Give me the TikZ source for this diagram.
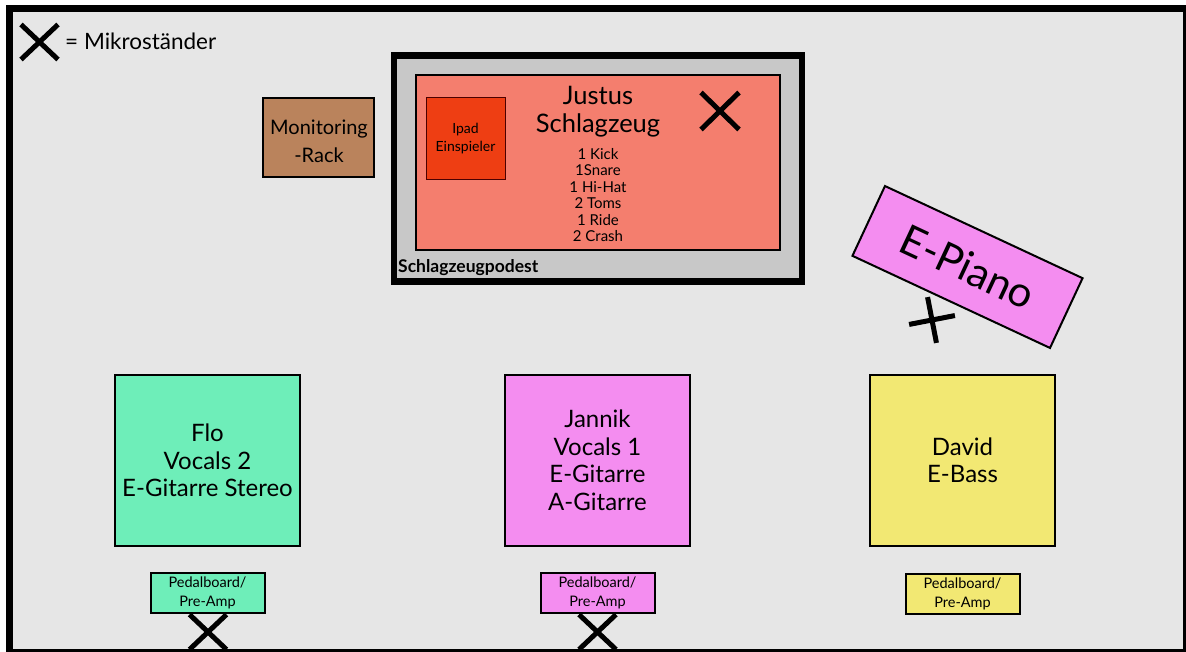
\documentclass[tikz,border=0pt]{standalone}
\usepackage{fontspec}
\setmainfont{Lato}
\usetikzlibrary{shapes.misc}
\definecolor{bgc}{HTML}{E6E6E6}
\definecolor{mint}{HTML}{6EEEB9}
\definecolor{pinkc}{HTML}{F48DF0}
\definecolor{yell}{HTML}{F2E873}
\definecolor{salm}{HTML}{F47E6E}
\definecolor{ipadc}{HTML}{EE3E13}
\definecolor{brownc}{HTML}{BA835C}
\definecolor{podc}{HTML}{C8C8C8}
\tikzset{
  box/.style={draw=black, line width=2pt, inner sep=0pt, align=center, text=black},
  bigtxt/.style={font=\fontsize{24}{27.5}\selectfont},
  pedal/.style={box, minimum width=114, minimum height=40, font=\fontsize{14.5}{19}\selectfont},
  mic/.style={cross out, draw=black, line width=5pt, inner sep=0pt, minimum width=32, minimum height=30},
}
\begin{document}
\begin{tikzpicture}[x=1pt, y=-1pt]
\useasboundingbox (0,0) rectangle (1186,652);
\fill[white] (0,0) rectangle (1186,652);
\fill[black] (6,5) rectangle (1186,652);
\fill[bgc] (13,12) rectangle (1183,649);

% legend
\node[mic] (lx) at (39.5,42) {};
\node[anchor=base west, inner sep=0pt, font=\fontsize{22.5}{26}\selectfont] (leg) at (65,50) {= Mikroständer};

% monitoring rack
\node[box, fill=brownc, minimum width=111, minimum height=79] (rack) at (318.5,137.5) {};
\node[align=center, inner sep=0pt, font=\fontsize{20}{28}\selectfont] (rackt) at (319,141) {Monitoring\\-Rack};

% drum riser
\node[draw=black, line width=6.5pt, fill=podc, minimum width=408, minimum height=226, inner sep=0pt] (pod) at (597.75,168.5) {};
\node[box, fill=salm, minimum width=364, minimum height=175] (drum) at (598,162.5) {};
\node[box, draw=black!70!red, line width=1pt, fill=ipadc, minimum width=79, minimum height=82, font=\fontsize{14}{18}\selectfont] (ipad) at (465.5,139) {Ipad\\Einspieler};
\node[align=center, inner sep=0pt, font=\fontsize{25.5}{28}\selectfont] (justus) at (598,112) {Justus\\Schlagzeug};
\node[align=center, inner sep=0pt, font=\fontsize{15}{16.5}\selectfont] (kit) at (598,195) {1 Kick\\1Snare\\1 Hi-Hat\\2 Toms\\1 Ride\\2 Crash};
\node[mic, minimum width=33, minimum height=32] (dx) at (720,111) {};
\node[anchor=base west, inner sep=0pt, font=\bfseries\fontsize{17.5}{20}\selectfont] (podl) at (398,273) {Schlagzeugpodest};

% e-piano
\node[box, fill=pinkc, rotate=-25, minimum width=218, minimum height=77, font=\fontsize{42}{46}\selectfont] (piano) at (967.5,267) {E-Piano};
\node[mic, rotate=-34, minimum width=28, minimum height=28] (px) at (932,320) {};

% musicians
\node[box, fill=mint, minimum width=185, minimum height=171, bigtxt] (flo) at (207.5,460.5) {Flo\\Vocals 2\\E-Gitarre Stereo};
\node[box, fill=pinkc, minimum width=185, minimum height=171, bigtxt] (jannik) at (597.5,460.5) {Jannik\\Vocals 1\\E-Gitarre\\A-Gitarre};
\node[box, fill=yell, minimum width=185, minimum height=171, bigtxt] (david) at (962.5,460.5) {David\\E-Bass};

% pedalboards
\node[pedal, fill=mint] (pflo) at (207.5,593) {Pedalboard/\\Pre-Amp};
\node[pedal, fill=pinkc] (pjan) at (597.5,593) {Pedalboard/\\Pre-Amp};
\node[pedal, fill=yell] (pdav) at (962.5,593.5) {Pedalboard/\\Pre-Amp};

% mic stands
\node[mic] (fx) at (208,632) {};
\node[mic] (jx) at (597.5,632) {};
\end{tikzpicture}
\end{document}
